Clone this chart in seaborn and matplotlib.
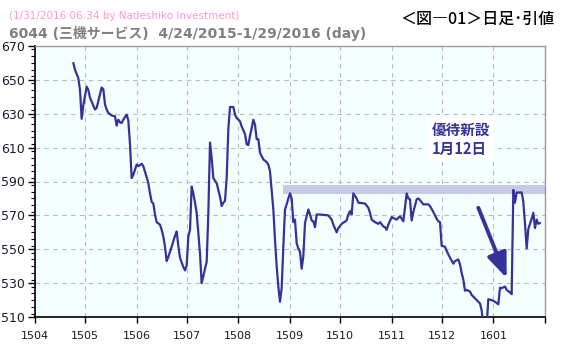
import numpy as np
import pandas as pd
import matplotlib
matplotlib.use("Agg")
import matplotlib.pyplot as plt
import matplotlib.dates as mdates
from matplotlib.ticker import MultipleLocator, FixedLocator
import seaborn as sns

# ---------------- data ----------------
dates = [
    "2015-04-24", "2015-04-25", "2015-04-27", "2015-04-28", "2015-04-29", "2015-04-30",
    "2015-05-02", "2015-05-03", "2015-05-04", "2015-05-07", "2015-05-08", "2015-05-11",
    "2015-05-12", "2015-05-13", "2015-05-14", "2015-05-15", "2015-05-17", "2015-05-19",
    "2015-05-20", "2015-05-21", "2015-05-22", "2015-05-23", "2015-05-24", "2015-05-26",
    "2015-05-27", "2015-05-28", "2015-05-29", "2015-05-30",
    "2015-06-01", "2015-06-02", "2015-06-04", "2015-06-05", "2015-06-07", "2015-06-08",
    "2015-06-09", "2015-06-10", "2015-06-11", "2015-06-12", "2015-06-13", "2015-06-15",
    "2015-06-16", "2015-06-17", "2015-06-18", "2015-06-19", "2015-06-20", "2015-06-22",
    "2015-06-24", "2015-06-25", "2015-06-26", "2015-06-27", "2015-06-29", "2015-06-30",
    "2015-07-01", "2015-07-02", "2015-07-03", "2015-07-04", "2015-07-05", "2015-07-06",
    "2015-07-07", "2015-07-08", "2015-07-09", "2015-07-10", "2015-07-11", "2015-07-12",
    "2015-07-13", "2015-07-14", "2015-07-15", "2015-07-16", "2015-07-17", "2015-07-19",
    "2015-07-20", "2015-07-21", "2015-07-22", "2015-07-23", "2015-07-24", "2015-07-25",
    "2015-07-26", "2015-07-27", "2015-07-29", "2015-07-30", "2015-07-31",
    "2015-08-02", "2015-08-03", "2015-08-05", "2015-08-06", "2015-08-07", "2015-08-08",
    "2015-08-09", "2015-08-10", "2015-08-11", "2015-08-12", "2015-08-13", "2015-08-14",
    "2015-08-16", "2015-08-18", "2015-08-19", "2015-08-20", "2015-08-21", "2015-08-22",
    "2015-08-23", "2015-08-24", "2015-08-25", "2015-08-26", "2015-08-27", "2015-08-28",
    "2015-08-29", "2015-08-30", "2015-08-31",
    "2015-09-01", "2015-09-02", "2015-09-03", "2015-09-04", "2015-09-05", "2015-09-06",
    "2015-09-07", "2015-09-08", "2015-09-09", "2015-09-10", "2015-09-12", "2015-09-13",
    "2015-09-14", "2015-09-15", "2015-09-16", "2015-09-17", "2015-09-19", "2015-09-24",
    "2015-09-26", "2015-09-27", "2015-09-29", "2015-09-30",
    "2015-10-02", "2015-10-05", "2015-10-06", "2015-10-07", "2015-10-08", "2015-10-09",
    "2015-10-11", "2015-10-12", "2015-10-16", "2015-10-18", "2015-10-19", "2015-10-20",
    "2015-10-22", "2015-10-24", "2015-10-25", "2015-10-27", "2015-10-28", "2015-10-29",
    "2015-10-30",
    "2015-11-01", "2015-11-02", "2015-11-04", "2015-11-06", "2015-11-07", "2015-11-08",
    "2015-11-10", "2015-11-11", "2015-11-12", "2015-11-13", "2015-11-14", "2015-11-16",
    "2015-11-17", "2015-11-18", "2015-11-20", "2015-11-23", "2015-11-24", "2015-11-26",
    "2015-11-28", "2015-11-29", "2015-11-30",
    "2015-12-01", "2015-12-03", "2015-12-04", "2015-12-06", "2015-12-08", "2015-12-09",
    "2015-12-11", "2015-12-12", "2015-12-13", "2015-12-14", "2015-12-15", "2015-12-16",
    "2015-12-18", "2015-12-19", "2015-12-21", "2015-12-22", "2015-12-24", "2015-12-25",
    "2015-12-26", "2015-12-28", "2015-12-29", "2015-12-31",
    "2016-01-02", "2016-01-04", "2016-01-05", "2016-01-06", "2016-01-08", "2016-01-09",
    "2016-01-11", "2016-01-12", "2016-01-13", "2016-01-14", "2016-01-15", "2016-01-18",
    "2016-01-19", "2016-01-20", "2016-01-21", "2016-01-22", "2016-01-24", "2016-01-25",
    "2016-01-26", "2016-01-27", "2016-01-28", "2016-01-29",
]

prices = [
    660, 656, 651, 644, 627, 635,
    646, 644, 639.5, 632.5, 633.5, 645.5,
    644.5, 635.5, 632.5, 630.5, 629, 628.5,
    623, 626.5, 625, 624.5, 626.5, 629.5,
    626, 612, 592, 594,
    600, 599, 600.5, 599, 592.5, 589,
    583, 578, 577, 570.5, 566, 564.5,
    561.5, 557.5, 551.5, 543, 545.5, 551.5,
    558, 560.5, 552, 545, 539.5, 537.5,
    540.5, 557.5, 561.5, 587, 583, 577.5,
    571.5, 559.5, 547.5, 530, 534, 538.5,
    542.5, 571, 613, 604, 592, 589,
    585, 581, 575.5, 577.5, 578.5, 592,
    621, 634, 634, 629.5, 627.5,
    625.5, 622.5, 618, 612, 611.5, 617,
    621.5, 626.5, 623.5, 615, 615, 607,
    603, 601.5, 600, 596, 585, 573.5,
    555.5, 540, 528, 519, 527, 551.5,
    573.5, 576.5, 580,
    583, 580, 566, 567.5, 553.5, 550.5,
    548.5, 538.5, 546, 565.5, 573.5, 570.5,
    567, 566.5, 563, 570.5, 570.5, 570,
    567.5, 564.5, 560, 562.5,
    565, 567, 570.5, 572.5, 570.5, 583,
    580, 577.5, 577, 574.5, 571.5, 567.5,
    566, 565, 566, 563.5, 563, 561.5,
    564.5,
    569, 568.5, 567.5, 569.5, 568, 566.5,
    583, 580, 579.5, 567, 572, 579.5,
    580, 579, 576.5, 576.5, 575.5, 572,
    568, 566.5, 566,
    552, 551.5, 549, 545, 541.5, 543,
    544, 541, 536, 532, 525.5, 526,
    525, 523, 521, 520, 518, 514,
    505, 505, 520.5, 520,
    519, 517.5, 527.3, 527, 528, 526,
    524.5, 523.5, 585, 577.5, 583.5, 583.5,
    578, 565, 550.5, 562, 568, 571.5,
    562.5, 567.5, 565, 565.5,
]

month_ticks = ["2015-04-01", "2015-05-01", "2015-06-01", "2015-07-01", "2015-08-01",
               "2015-09-01", "2015-10-01", "2015-11-01", "2015-12-01", "2016-01-01",
               "2016-02-01"]
month_labels = ["1504", "1505", "1506", "1507", "1508", "1509", "1510", "1511",
                "1512", "1601", ""]
y_ticks = [510, 530, 550, 570, 590, 610, 630, 650, 670]

# resistance band and annotation
band_start = "2015-08-28"
band_low, band_high = 582.5, 588
note_text = "優待新設\n1月12日"
note_pos = ("2015-11-25", 625.5)
arrow_from = ("2015-12-23", 574.5)
arrow_to = ("2016-01-09", 533)

subtitle = "(1/31/2016 06:34 by Nadeshiko Investment)"
title = "6044 (三機サービス)  4/24/2015-1/29/2016 (day)"
corner = "＜図―01＞日足･引値"

# ---------------- style ----------------
sns.set_style("white")
plt.rcParams['font.family'] = ['DejaVu Sans', 'Noto Sans CJK JP']

LINE = '#333399'
W, H = 566, 349
fig = plt.figure(figsize=(W / 100, H / 100), dpi=100)
ax = fig.add_axes([35 / W, 1 - 317 / H, 510 / W, 271 / H])
ax.set_facecolor('#F4FFFF')

df = pd.DataFrame({'date': pd.to_datetime(dates), 'price': prices})
sns.lineplot(data=df, x='date', y='price', ax=ax, color=LINE, lw=1.6,
             zorder=4, estimator=None, sort=False)

x0, x1 = pd.Timestamp(month_ticks[0]), pd.Timestamp(month_ticks[-1])
ax.set_xlim(x0, x1)
ax.set_ylim(y_ticks[0], y_ticks[-1])

# band
bs = mdates.date2num(pd.Timestamp(band_start))
ax.fill_between([bs, mdates.date2num(x1)], band_low, band_high,
                color='#C6CAE6', lw=0, zorder=2)

# grid lines
for t in month_ticks[1:-1]:
    ax.axvline(pd.Timestamp(t), color='#BBBBBB', lw=0.8, ls=(0, (4, 4)), zorder=1)
for v in y_ticks[1:-1]:
    ax.axhline(v, color='#BBBBBB', lw=0.8, ls=(0, (4, 4)), zorder=1)

# ticks
ax.xaxis.set_major_locator(FixedLocator(mdates.date2num(pd.to_datetime(month_ticks))))
ax.set_xticklabels(month_labels)
ax.yaxis.set_major_locator(FixedLocator(y_ticks))
ax.yaxis.set_minor_locator(MultipleLocator(4))
ax.tick_params(axis='x', which='major', direction='out', length=4, width=1,
               labelsize=8, pad=6, colors='black', labelcolor='#1a1a1a')
ax.tick_params(axis='y', which='major', direction='out', length=5, width=1,
               labelsize=9, pad=2, colors='black', labelcolor='#1a1a33')
ax.tick_params(axis='y', which='minor', direction='out', length=3, width=0.8,
               colors='black')
ax.tick_params(left=True, bottom=True, which='both')
ax.set_xlabel('')
ax.set_ylabel('')

for s in ['left', 'bottom']:
    ax.spines[s].set_color('black')
    ax.spines[s].set_linewidth(1.2)
for s in ['top', 'right']:
    ax.spines[s].set_color('#999999')
    ax.spines[s].set_linewidth(1.0)

# annotation text
ax.text(pd.Timestamp(note_pos[0]), note_pos[1], note_text, color=LINE,
        fontsize=10.5, fontweight='bold', va='top', ha='left', linespacing=1.25,
        family=['Noto Sans CJK JP', 'DejaVu Sans'], zorder=6,
        bbox=dict(facecolor='white', edgecolor='none', pad=3))

# arrow
ax.annotate('', xy=(pd.Timestamp(arrow_to[0]), arrow_to[1]),
            xytext=(pd.Timestamp(arrow_from[0]), arrow_from[1]),
            arrowprops=dict(arrowstyle='-|>,head_length=0.75,head_width=0.3',
                            lw=2.8, color=LINE, mutation_scale=20,
                            shrinkA=0, shrinkB=0), zorder=6)

# titles
fig.text(9 / W, 1 - 16 / H, subtitle, color='#FF99CC', fontsize=7.5, va='center')
fig.text(9 / W, 1 - 33 / H, title, color='#808080', fontsize=10,
         fontweight='bold', va='center')
fig.text(555 / W, 1 - 19 / H, corner, color='black', fontsize=11.5, ha='right',
         va='center', fontweight='medium',
         family=['Noto Sans CJK JP', 'DejaVu Sans'])

fig.savefig('out.png', dpi=100, facecolor='white')
